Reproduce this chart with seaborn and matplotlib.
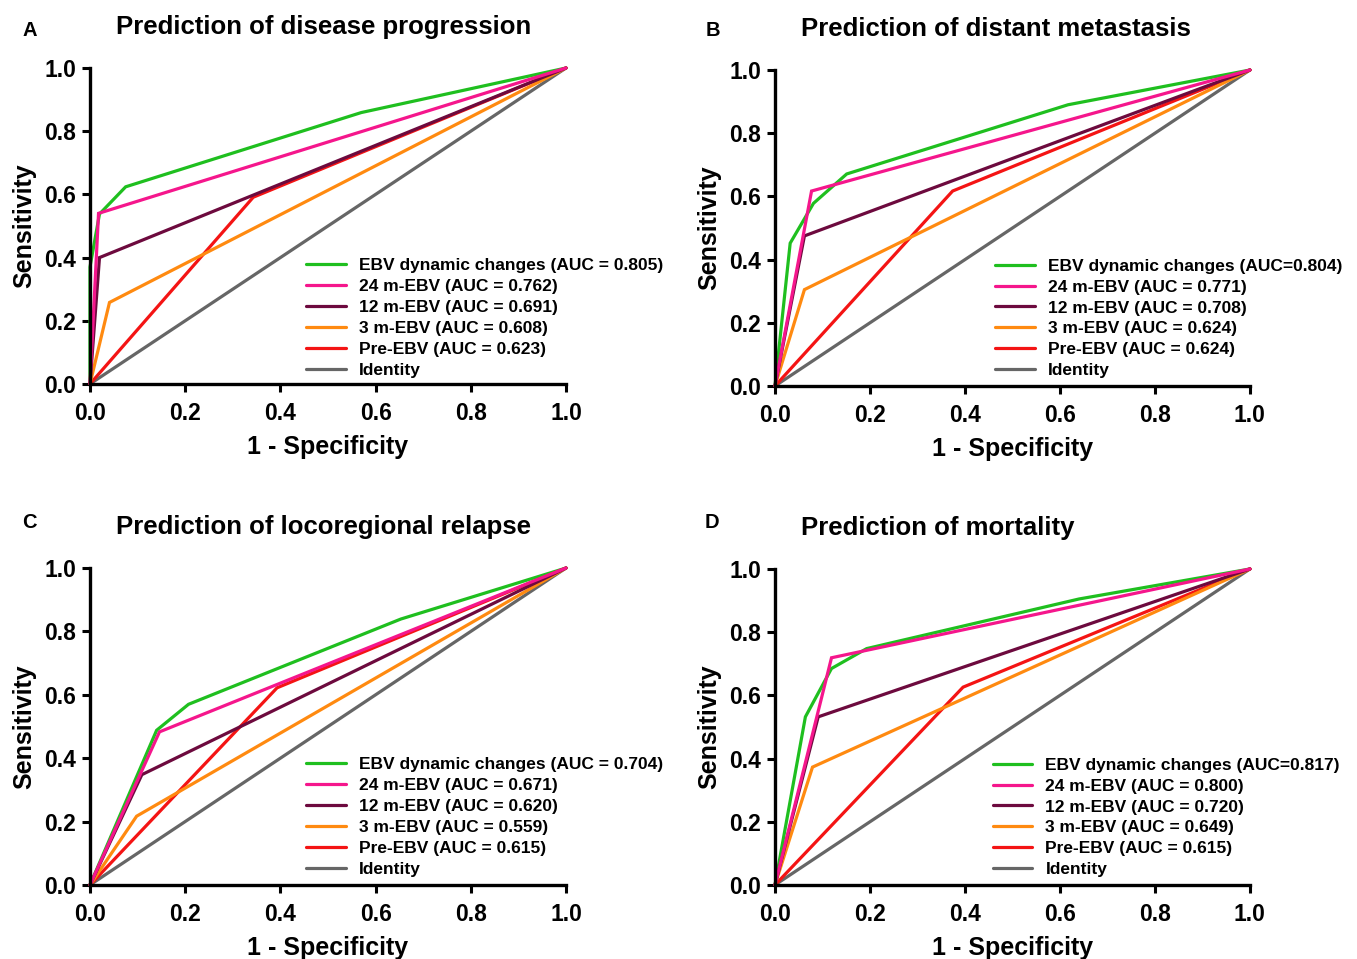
import pandas as pd
import matplotlib.pyplot as plt
import seaborn as sns

# === Curve names / colours (legend order) ===
curves = ["EBV dynamic changes", "24 m-EBV", "12 m-EBV", "3 m-EBV", "Pre-EBV", "Identity"]
colors = ["#1fbf1f", "#f5168c", "#6d0a3e", "#ff8a10", "#f41414", "#666666"]

titles = ["Prediction of disease progression", "Prediction of distant metastasis",
          "Prediction of locoregional relapse", "Prediction of mortality"]
letters = ["A", "B", "C", "D"]

# === AUC legend labels per panel ===
labels_a = ["EBV dynamic changes (AUC = 0.805)", "24 m-EBV (AUC = 0.762)", "12 m-EBV (AUC = 0.691)",
            "3 m-EBV (AUC = 0.608)", "Pre-EBV (AUC = 0.623)", "Identity"]
labels_b = ["EBV dynamic changes (AUC=0.804)", "24 m-EBV (AUC = 0.771)", "12 m-EBV (AUC = 0.708)",
            "3 m-EBV (AUC = 0.624)", "Pre-EBV (AUC = 0.624)", "Identity"]
labels_c = ["EBV dynamic changes (AUC = 0.704)", "24 m-EBV (AUC = 0.671)", "12 m-EBV (AUC = 0.620)",
            "3 m-EBV (AUC = 0.559)", "Pre-EBV (AUC = 0.615)", "Identity"]
labels_d = ["EBV dynamic changes (AUC=0.817)", "24 m-EBV (AUC = 0.800)", "12 m-EBV (AUC = 0.720)",
            "3 m-EBV (AUC = 0.649)", "Pre-EBV (AUC = 0.615)", "Identity"]

# === ROC points (1 - specificity, sensitivity) ===
# Panel A - disease progression
a_fpr = {"EBV dynamic changes": [0, 0, 0.02, 0.075, 0.57, 1], "24 m-EBV": [0, 0.018, 1],
         "12 m-EBV": [0, 0.02, 1], "3 m-EBV": [0, 0.041, 1], "Pre-EBV": [0, 0.343, 1], "Identity": [0, 1]}
a_tpr = {"EBV dynamic changes": [0, 0.37, 0.538, 0.624, 0.859, 1], "24 m-EBV": [0, 0.54, 1],
         "12 m-EBV": [0, 0.40, 1], "3 m-EBV": [0, 0.258, 1], "Pre-EBV": [0, 0.591, 1], "Identity": [0, 1]}
# Panel B - distant metastasis
b_fpr = {"EBV dynamic changes": [0, 0.032, 0.081, 0.151, 0.617, 1], "24 m-EBV": [0, 0.077, 1],
         "12 m-EBV": [0, 0.062, 1], "3 m-EBV": [0, 0.062, 1], "Pre-EBV": [0, 0.374, 1], "Identity": [0, 1]}
b_tpr = {"EBV dynamic changes": [0, 0.452, 0.578, 0.671, 0.89, 1], "24 m-EBV": [0, 0.617, 1],
         "12 m-EBV": [0, 0.475, 1], "3 m-EBV": [0, 0.305, 1], "Pre-EBV": [0, 0.617, 1], "Identity": [0, 1]}
# Panel C - locoregional relapse
c_fpr = {"EBV dynamic changes": [0, 0.140, 0.207, 0.653, 1], "24 m-EBV": [0, 0.146, 1],
         "12 m-EBV": [0, 0.109, 1], "3 m-EBV": [0, 0.098, 1], "Pre-EBV": [0, 0.393, 1], "Identity": [0, 1]}
c_tpr = {"EBV dynamic changes": [0, 0.488, 0.570, 0.839, 1], "24 m-EBV": [0, 0.483, 1],
         "12 m-EBV": [0, 0.348, 1], "3 m-EBV": [0, 0.217, 1], "Pre-EBV": [0, 0.622, 1], "Identity": [0, 1]}
# Panel D - mortality
d_fpr = {"EBV dynamic changes": [0, 0.064, 0.119, 0.193, 0.64, 1], "24 m-EBV": [0, 0.119, 1],
         "12 m-EBV": [0, 0.091, 1], "3 m-EBV": [0, 0.079, 1], "Pre-EBV": [0, 0.396, 1], "Identity": [0, 1]}
d_tpr = {"EBV dynamic changes": [0, 0.532, 0.685, 0.748, 0.905, 1], "24 m-EBV": [0, 0.719, 1],
         "12 m-EBV": [0, 0.532, 1], "3 m-EBV": [0, 0.373, 1], "Pre-EBV": [0, 0.626, 1], "Identity": [0, 1]}

panels = [(a_fpr, a_tpr, labels_a), (b_fpr, b_tpr, labels_b),
          (c_fpr, c_tpr, labels_c), (d_fpr, d_tpr, labels_d)]

sns.set_theme(style="ticks")
plt.rcParams["font.family"] = ["Liberation Sans", "DejaVu Sans"]
plt.rcParams["font.weight"] = "bold"
plt.rcParams["text.color"] = "black"
plt.rcParams["axes.labelcolor"] = "black"
plt.rcParams["xtick.color"] = "black"
plt.rcParams["ytick.color"] = "black"

fig = plt.figure(figsize=(13.57, 9.59), dpi=100)
# axes rectangles in figure fraction
rects = [(0.0663, 0.5996, 0.3508, 0.3295), (0.5711, 0.5975, 0.3500, 0.3295),
         (0.0663, 0.0772, 0.3508, 0.3305), (0.5711, 0.0772, 0.3500, 0.3295)]
letter_pos = [(0.022, 0.968), (0.525, 0.968), (0.022, 0.455), (0.525, 0.455)]
leg_anchor = [(0.454, 0.398), (0.463, 0.403), (0.454, 0.403), (0.458, 0.403)]

draw_order = ["Identity", "EBV dynamic changes", "Pre-EBV", "3 m-EBV", "12 m-EBV", "24 m-EBV"]
palette = dict(zip(curves, colors))

for i, (fpr, tpr, labels) in enumerate(panels):
    ax = fig.add_axes(rects[i])
    rows = []
    for name in curves:
        for x, y in zip(fpr[name], tpr[name]):
            rows.append({"fpr": x, "tpr": y, "curve": name})
    df = pd.DataFrame(rows)
    sns.lineplot(data=df, x="fpr", y="tpr", hue="curve", hue_order=draw_order,
                 palette=palette, sort=False, estimator=None, linewidth=2.3,
                 legend=False, ax=ax)
    for ln in ax.lines:
        ln.set_clip_on(False)
        ln.set_solid_joinstyle("miter")

    ax.set_xlim(0, 1)
    ax.set_ylim(0, 1)
    ax.set_xticks([0, 0.2, 0.4, 0.6, 0.8, 1.0])
    ax.set_yticks([0, 0.2, 0.4, 0.6, 0.8, 1.0])
    ax.set_xticklabels(["0.0", "0.2", "0.4", "0.6", "0.8", "1.0"])
    ax.set_yticklabels(["0.0", "0.2", "0.4", "0.6", "0.8", "1.0"])
    ax.tick_params(axis="x", labelsize=16.5, width=2.2, length=6, color="black", pad=7)
    ax.tick_params(axis="y", labelsize=16.5, width=2.2, length=6, color="black", pad=4)
    for lab in ax.get_xticklabels() + ax.get_yticklabels():
        lab.set_fontweight("bold")
    sns.despine(ax=ax)
    for s in ["left", "bottom"]:
        ax.spines[s].set_linewidth(2.4)
        ax.spines[s].set_color("black")

    ax.set_xlabel("1 - Specificity", fontsize=18, fontweight="bold", labelpad=7.5)
    ax.set_ylabel("Sensitivity", fontsize=18, fontweight="bold", labelpad=6)
    ax.text(0.055, 1.13, titles[i], transform=ax.transAxes, fontsize=18.5,
            fontweight="bold", ha="left", va="center")

    # legend in the original order
    handles = [plt.Line2D([], [], color=palette[n], linewidth=2.3) for n in curves]
    ax.legend(handles, labels, loc="upper left", bbox_to_anchor=leg_anchor[i],
              frameon=False, handlelength=2.3, handletextpad=0.75,
              labelspacing=0.33, borderpad=0, borderaxespad=0,
              prop={"weight": "bold", "size": 12.5})

    fig.text(letter_pos[i][0], letter_pos[i][1], letters[i], fontsize=14.5,
             fontweight="bold", ha="center", va="center")

plt.savefig("out.png", dpi=100)
plt.close()
